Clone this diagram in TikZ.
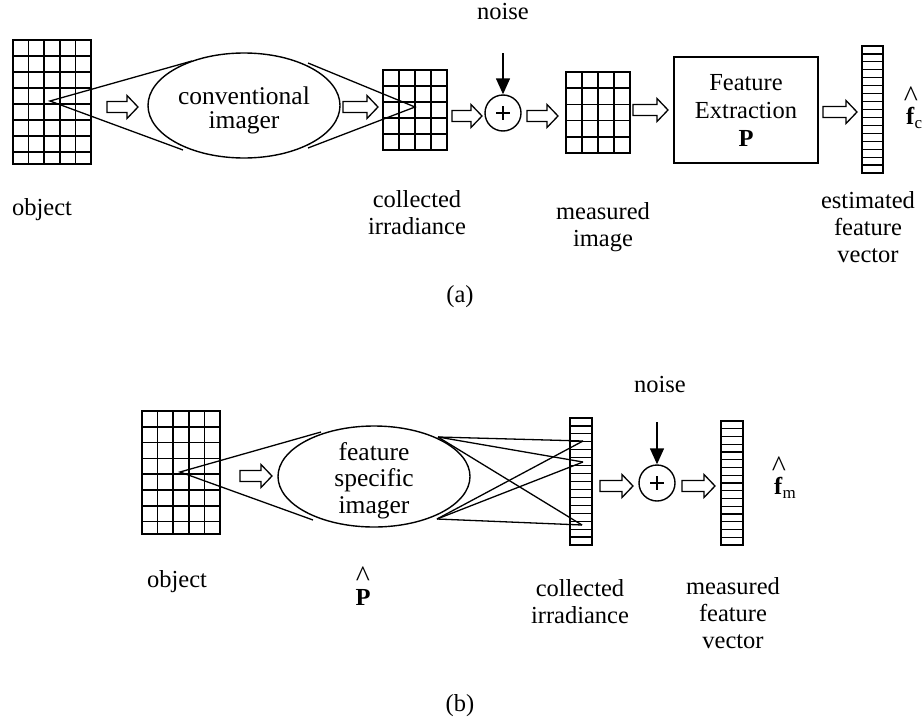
\documentclass[tikz,border=0pt]{standalone}
\usepackage{fontspec}
\setmainfont{Liberation Serif}
\usetikzlibrary{arrows.meta,shapes.geometric}
\newcommand\hollowarrow[3]{%
  \draw[harr] (#1,{#3-5.5}) -- ({#2-11},{#3-5.5}) -- ({#2-11},{#3-11.5}) -- (#2,#3)
    -- ({#2-11},{#3+11.5}) -- ({#2-11},{#3+5.5}) -- (#1,{#3+5.5}) -- cycle;}
\begin{document}
\begin{tikzpicture}[x=1pt,y=-1pt,
  lab/.style={align=center, inner sep=0, font=\fontsize{24.5}{27}\selectfont},
  gridbox/.style={draw, line width=2pt, inner sep=0},
  gl/.style={line width=1.6pt},
  vl/.style={line width=1.2pt},
  ray/.style={line width=1.3pt},
  lens/.style={draw, ellipse, line width=1.4pt, inner sep=0},
  lenstext/.style={align=center, inner sep=0},
  summer/.style={draw, circle, line width=1.4pt, minimum size=36pt, inner sep=0},
  plusl/.style={line width=1.1pt},
  harr/.style={line width=1.3pt, line join=miter, fill=white},
  noisearr/.style={line width=1.4pt, -{Triangle[width=14pt,length=16pt]}},
  hatmark/.style={inner sep=0, font=\fontsize{30}{30}\selectfont},
  procbox/.style={draw, line width=1.4pt, inner sep=0, align=center,
    font=\fontsize{24.5}{28}\selectfont},
]
\useasboundingbox (0,0) rectangle (923,720);

% ================= (a) =================
% object grid
\node[gridbox, minimum width=78pt, minimum height=124pt] (objA) at (52,102) {};
\foreach \x in {28.6,44.2,59.8,75.4} \draw[gl] (\x,40) -- (\x,164);
\foreach \y in {56,72,88,104,120,136,152} \draw[gl] (13,\y) -- (91,\y);

% conventional imager
\node[lens, minimum width=192pt, minimum height=105pt] (ellA) at (244,105.5) {};
\node[lenstext, font=\fontsize{25.5}{24}\selectfont] (ellAtext) at (244,110) {conventional\\imager};
\coordinate (apA) at (50,101);
\coordinate (upA) at (192,61);
\coordinate (loA) at (183,150);
\draw[ray] (upA) -- (apA) -- (loA);
\coordinate (upA2) at (308,63);
\coordinate (loA2) at (308,148);
\coordinate (apA2) at (415,107);
\hollowarrow{107}{138}{107}

% collected irradiance grid
\node[gridbox, minimum width=64pt, minimum height=80pt] (colA) at (415,110) {};
\foreach \x in {399,415,431} \draw[gl] (\x,70) -- (\x,150);
\foreach \y in {86,102,118,134} \draw[gl] (383,\y) -- (447,\y);
\draw[ray] (upA2) -- (apA2) -- (loA2);
\hollowarrow{343}{378}{107}

% noise and summer
\hollowarrow{452}{482}{116}
\node[summer] (plusA) at (503,113) {};
\draw[plusl] (plusA.center) ++(-7,0) -- ++(14,0);
\draw[plusl] (plusA.center) ++(0,-7) -- ++(0,14);
\coordinate (nzA) at (503,53);
\draw[noisearr] (nzA) -- (plusA.north);
\node[lab] (noiseA) at (503,12) {noise};
\hollowarrow{527}{558}{116}

% measured image grid
\node[gridbox, minimum width=64pt, minimum height=81pt] (measA) at (598,112.5) {};
\foreach \x in {582,598,614} \draw[gl] (\x,72) -- (\x,153);
\foreach \y in {88.2,104.4,120.6,136.8} \draw[gl] (566,\y) -- (630,\y);
\hollowarrow{633}{668}{110}

% feature extraction box
\node[procbox, minimum width=144pt, minimum height=106pt] (featA) at (746,110)
  {Feature\\Extraction\\\textbf{P}};
\hollowarrow{823}{857}{112}

% estimated feature vector
\node[gridbox, line width=1.8pt, minimum width=21pt, minimum height=127pt] (vecA) at (872.5,109.5) {};
\foreach \k in {1,...,15} \draw[vl] (862,{46+\k*127/16}) -- (883,{46+\k*127/16});
\node[inner sep=0, anchor=base west, font=\fontsize{24.5}{24.5}\selectfont] (fhatc) at (906,124)
  {\textbf{f}\raisebox{-4pt}{\fontsize{17}{17}\selectfont c}};
\node[hatmark] (hatc) at (911,97) {\textasciicircum};

% labels (a)
\node[lab] (lobjA) at (42,210) {object};
\node[lab] (lcolA) at (417,213) {collected\\irradiance};
\node[lab] (lmeasA) at (603,227) {measured\\image};
\node[lab] (lvecA) at (868,227) {estimated\\feature\\vector};
\node[lab] (capA) at (460,297) {(a)};

% ================= (b) =================
\node[gridbox, minimum width=78pt, minimum height=123pt] (objB) at (181,472.5) {};
\foreach \x in {157.6,173.2,188.8,204.4} \draw[gl] (\x,411) -- (\x,534);
\foreach \y in {426.8,442.6,458.4,474.2,490,505.8,521.6} \draw[gl] (142,\y) -- (220,\y);

\node[lens, minimum width=192pt, minimum height=101pt] (ellB) at (374,476.5) {};
\node[lenstext, font=\fontsize{25.5}{26.5}\selectfont] (ellBtext) at (374,480.5) {feature\\specific\\imager};
\coordinate (apB) at (180,472);
\coordinate (upB) at (321,432);
\coordinate (loB) at (313,520);
\draw[ray] (upB) -- (apB) -- (loB);
\hollowarrow{240}{272}{476}

% collected irradiance vector
\node[gridbox, line width=1.8pt, minimum width=22pt, minimum height=127pt] (colB) at (581,481.5) {};
\foreach \k in {1,...,15} \draw[vl] (570,{418+\k*127/16}) -- (592,{418+\k*127/16});

% crossing rays
\coordinate (s1) at (438,437);
\coordinate (s2) at (437,519);
\coordinate (a1) at (583,441);
\coordinate (a2) at (583,462);
\coordinate (a3) at (582,525);
\foreach \a in {a1,a2,a3} {
  \draw[ray] (s1) -- (\a);
  \draw[ray] (s2) -- (\a);
}

\hollowarrow{600}{633}{486}
\node[summer] (plusB) at (657,483) {};
\draw[plusl] (plusB.center) ++(-7,0) -- ++(14,0);
\draw[plusl] (plusB.center) ++(0,-7) -- ++(0,14);
\coordinate (nzB) at (657,422);
\draw[noisearr] (nzB) -- (plusB.north);
\node[lab] (noiseB) at (660,385) {noise};
\hollowarrow{682}{715}{486}

% measured feature vector
\node[gridbox, line width=1.8pt, minimum width=22pt, minimum height=124pt] (measB) at (732,483) {};
\foreach \k in {1,...,15} \draw[vl] (721,{421+\k*124/16}) -- (743,{421+\k*124/16});
\node[inner sep=0, anchor=base west, font=\fontsize{24.5}{24.5}\selectfont] (fhatm) at (774,494)
  {\textbf{f}\raisebox{-4pt}{\fontsize{17}{17}\selectfont m}};
\node[hatmark] (hatm) at (779,467) {\textasciicircum};

% labels (b)
\node[lab] (lobjB) at (177,582) {object};
\node[lab, font=\bfseries\fontsize{24.5}{24.5}\selectfont] (lP) at (363,597) {P};
\node[hatmark] (hatP) at (363,577) {\textasciicircum};
\node[lab] (lcolB) at (580,602) {collected\\irradiance};
\node[lab] (lmeasB) at (733,613) {measured\\feature\\vector};
\node[lab] (capB) at (460,706) {(b)};
\end{tikzpicture}
\end{document}
